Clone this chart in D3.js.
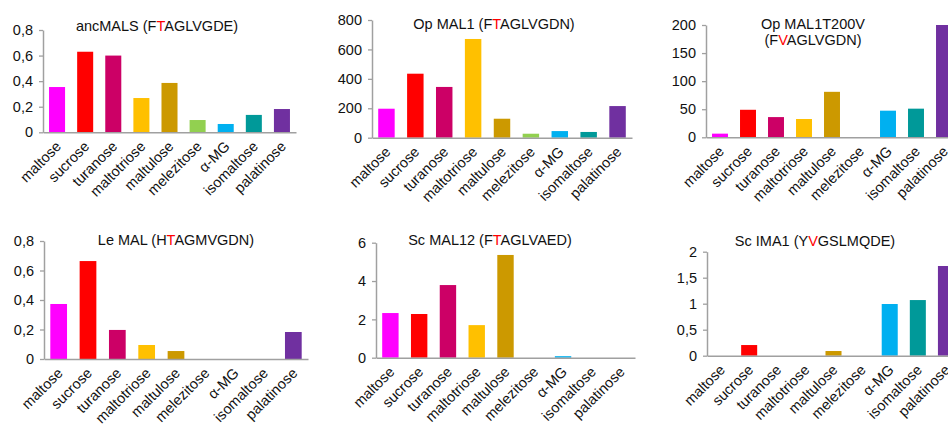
<!DOCTYPE html>
<html>
<head>
<meta charset="utf-8">
<script src="https://cdn.jsdelivr.net/npm/d3@7"></script>
<style>
  body { margin: 0; background: #fff; }
  svg { display: block; }
</style>
</head>
<body>
<div id="chart"></div>
<script>
// sugars tested, same order in every panel
const categories = ['maltose', 'sucrose', 'turanose', 'maltotriose', 'maltulose',
                    'melezitose', 'α-MG', 'isomaltose', 'palatinose'];
const barColors = ['#FF00FF', '#FF0000', '#CC0066', '#FFC000', '#CC9900',
                   '#92D050', '#00B0F0', '#009999', '#7030A0'];

// values
const ancMALS     = [0.354, 0.63, 0.60, 0.268, 0.386, 0.096, 0.065, 0.136, 0.182];
const opMAL1      = [197, 435, 345, 671, 129, 27, 45, 39, 215];
const opMAL1T200V = [6.5, 49, 36, 32.6, 81, 0, 47.4, 51, 200];
const leMAL       = [0.373, 0.664, 0.197, 0.095, 0.054, 0, 0, 0, 0.183];
const scMAL12     = [2.33, 2.28, 3.79, 1.70, 5.36, 0, 0.08, 0, 0];
const scIMA1      = [0, 0.205, 0, 0, 0.09, 0, 0.994, 1.07, 1.725];

// y tick labels
const ticksSmall = [0, 0.2, 0.4, 0.6, 0.8];
const ticksOp    = [0, 200, 400, 600, 800];
const ticksT200V = [0, 50, 100, 150, 200];
const ticksSc12  = [0, 2, 4, 6];
const ticksIma   = [0, 0.5, 1, 1.5, 2];

// titles: [before, highlighted letter, after]
const titleAnc   = ['ancMALS (F', 'T', 'AGLVGDE)'];
const titleOp    = ['Op MAL1 (F', 'T', 'AGLVGDN)'];
const titleT200V = ['Op MAL1T200V', '(F', 'V', 'AGLVGDN)'];
const titleLe    = ['Le MAL (H', 'T', 'AGMVGDN)'];
const titleSc12  = ['Sc MAL12 (F', 'T', 'AGLVAED)'];
const titleIma   = ['Sc IMA1 (Y', 'V', 'GSLMQDE)'];

// panel layout (pixels)
const panels = [
  { vals: ancMALS,     ticks: ticksSmall, title: titleAnc,   x0: 43,  x1: 296, y0: 132.3, y1: 30,    tx: 157, ty: 31 },
  { vals: opMAL1,      ticks: ticksOp,    title: titleOp,    x0: 372, x1: 632, y0: 137.7, y1: 20,    tx: 494, ty: 29 },
  { vals: opMAL1T200V, ticks: ticksT200V, title: titleT200V, x0: 706, x1: 958, y0: 137.3, y1: 25,    tx: 813, ty: 29, twoLine: true },
  { vals: leMAL,       ticks: ticksSmall, title: titleLe,    x0: 44,  x1: 308, y0: 359,   y1: 241,   tx: 176, ty: 245 },
  { vals: scMAL12,     ticks: ticksSc12,  title: titleSc12,  x0: 376, x1: 635, y0: 357.7, y1: 242.7, tx: 490, ty: 245 },
  { vals: scIMA1,      ticks: ticksIma,   title: titleIma,   x0: 707, x1: 960, y0: 355.7, y1: 251.7, tx: 815, ty: 246 }
];

const font = "'Liberation Sans', Arial, sans-serif";
const axisColor = '#A0A0A0';
const textColor = '#111';
const commaFmt = d3.formatLocale({ decimal: ',', thousands: '.', grouping: [3], currency: ['', ''] }).format('~g');

const svg = d3.select('#chart').append('svg')
  .attr('width', 948)
  .attr('height', 427)
  .style('font-family', font);

svg.append('rect').attr('width', 948).attr('height', 427).attr('fill', '#fff');

panels.forEach(p => {
  const g = svg.append('g');

  const x = d3.scaleBand()
    .domain(categories)
    .range([p.x0, p.x1])
    .paddingInner(0.43)
    .paddingOuter(0.215);

  const y = d3.scaleLinear()
    .domain([0, d3.max(p.ticks)])
    .range([p.y0, p.y1]);

  // bars
  g.selectAll('rect.bar')
    .data(p.vals)
    .join('rect')
    .attr('class', 'bar')
    .attr('x', (d, i) => x(categories[i]))
    .attr('width', x.bandwidth())
    .attr('y', d => y(d))
    .attr('height', d => y(0) - y(d))
    .attr('fill', (d, i) => barColors[i]);

  // y axis
  const yAxis = g.append('g')
    .attr('transform', `translate(${p.x0},0)`)
    .call(d3.axisLeft(y).tickValues(p.ticks).tickSizeInner(4).tickSizeOuter(0).tickPadding(6).tickFormat(commaFmt));
  yAxis.select('.domain').attr('stroke', axisColor).attr('stroke-width', 1.5);
  yAxis.selectAll('.tick line').attr('stroke', axisColor).attr('stroke-width', 1.3);
  yAxis.selectAll('text')
    .attr('fill', textColor)
    .attr('font-size', '14.5px')
    .attr('font-family', font);

  // x axis
  const xAxis = g.append('g')
    .attr('transform', `translate(0,${p.y0})`)
    .call(d3.axisBottom(x).tickSize(0).tickSizeOuter(0));
  xAxis.select('.domain').attr('stroke', axisColor).attr('stroke-width', 1.5);
  xAxis.selectAll('text')
    .attr('fill', textColor)
    .attr('font-size', '14.5px')
    .attr('font-family', font)
    .attr('text-anchor', 'end')
    .attr('y', 0)
    .attr('dy', 0)
    .attr('transform', 'translate(5,15) rotate(-45)');

  // title
  const t = g.append('text')
    .attr('x', p.tx)
    .attr('y', p.ty)
    .attr('text-anchor', 'middle')
    .attr('font-size', '14.5px')
    .attr('fill', textColor);
  if (p.twoLine) {
    t.append('tspan').text(p.title[0]);
    const t2 = g.append('text')
      .attr('x', p.tx)
      .attr('y', p.ty + 16)
      .attr('text-anchor', 'middle')
      .attr('font-size', '14.5px')
      .attr('fill', textColor);
    t2.append('tspan').text(p.title[1]);
    t2.append('tspan').attr('fill', '#FF0000').text(p.title[2]);
    t2.append('tspan').text(p.title[3]);
  } else {
    t.append('tspan').text(p.title[0]);
    t.append('tspan').attr('fill', '#FF0000').text(p.title[1]);
    t.append('tspan').text(p.title[2]);
  }
});
</script>
</body>
</html>
